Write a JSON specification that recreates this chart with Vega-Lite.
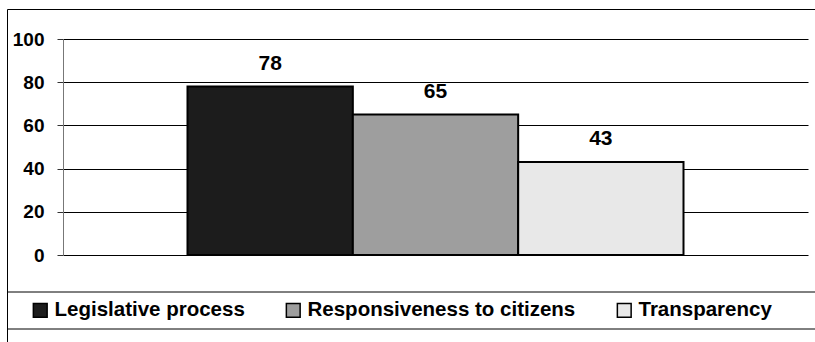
{
  "$schema": "https://vega.github.io/schema/vega-lite/v6.json",
  "width": 813,
  "height": 341,
  "autosize": {"type": "none"},
  "padding": {"left": 7, "top": 9, "right": 0, "bottom": 0},
  "background": "white",
  "config": {
    "view": {"stroke": "black", "strokeWidth": 1},
    "font": "Liberation Sans"
  },
  "data": {
    "values": [
      {"category": "Legislative process", "value": 78},
      {"category": "Responsiveness to citizens", "value": 65},
      {"category": "Transparency", "value": 43}
    ]
  },
  "layer": [
    {
      "mark": {"type": "bar", "stroke": "black", "strokeWidth": 2},
      "encoding": {
        "x": {
          "field": "category", "type": "nominal", "sort": null,
          "scale": {"range": [56, 801], "paddingInner": 0, "paddingOuter": 0.753},
          "axis": null
        },
        "y": {
          "field": "value", "type": "quantitative",
          "scale": {"domain": [0, 100], "range": [246, 30], "nice": false, "zero": true},
          "axis": {
            "values": [0, 20, 40, 60, 80, 100],
            "offset": -56,
            "title": null,
            "grid": true,
            "gridColor": "black",
            "gridOpacity": 1,
            "gridWidth": 1,
            "domainColor": "#777777",
            "domainWidth": 1,
            "tickColor": "#333333",
            "tickSize": 6,
            "labelFont": "Liberation Sans",
            "labelFontWeight": "bold",
            "labelFontSize": 19,
            "labelColor": "black",
            "labelPadding": 13
          }
        },
        "fill": {
          "field": "category", "type": "nominal", "sort": null,
          "scale": {"range": ["#1c1c1c", "#9e9e9e", "#e8e8e8"]},
          "legend": {
            "orient": "none",
            "legendX": 23,
            "legendY": 291,
            "direction": "horizontal",
            "title": null,
            "padding": 0,
            "symbolType": "square",
            "symbolSize": 190,
            "symbolStrokeColor": "black",
            "symbolStrokeWidth": 1.5,
            "symbolOpacity": 1,
            "labelFont": "Liberation Sans",
            "labelFontWeight": "bold",
            "labelFontSize": 20.5,
            "labelColor": "black",
            "labelOffset": 4,
            "labelLimit": 400,
            "columnPadding": 38
          }
        }
      }
    },
    {
      "mark": {"type": "text", "fontWeight": "bold", "fontSize": 21, "font": "Liberation Sans", "baseline": "alphabetic", "dy": -17, "color": "black"},
      "encoding": {
        "x": {"field": "category", "type": "nominal", "sort": null},
        "y": {"field": "value", "type": "quantitative"},
        "text": {"field": "value", "type": "quantitative"}
      }
    },
    {
      "data": {"values": [{}]},
      "mark": {"type": "rule", "color": "black", "strokeWidth": 1},
      "encoding": {"y": {"datum": -17.13}}
    },
    {
      "data": {"values": [{}]},
      "mark": {"type": "rule", "color": "black", "strokeWidth": 1},
      "encoding": {"y": {"datum": -34.26}}
    }
  ]
}
